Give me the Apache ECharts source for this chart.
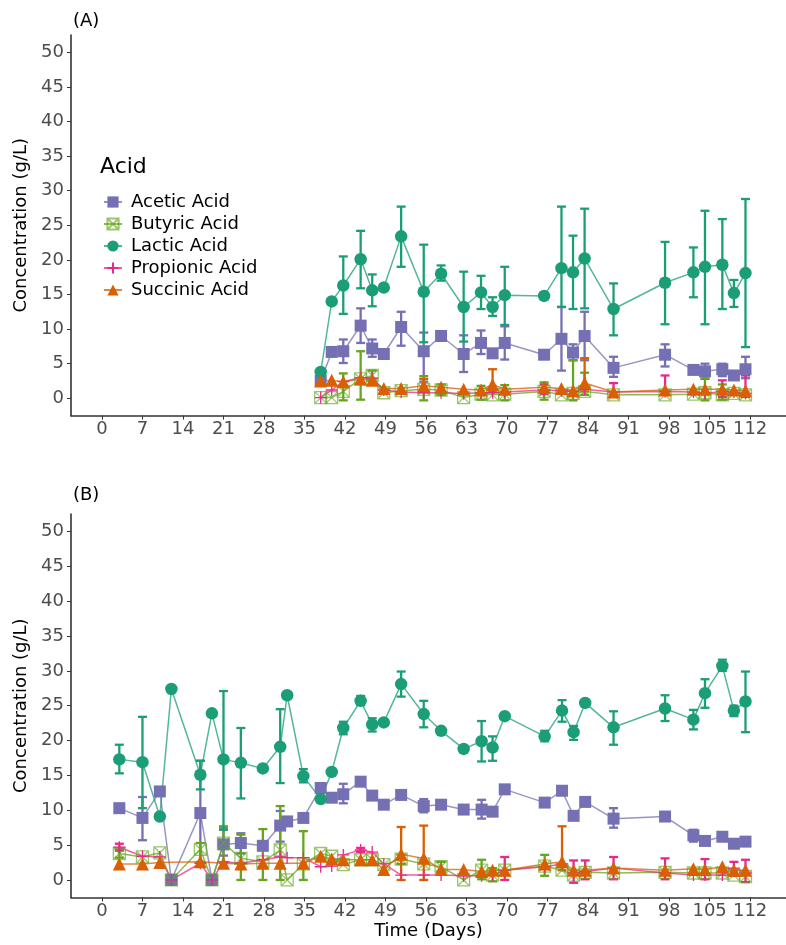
<!DOCTYPE html>
<html><head><meta charset="utf-8">
<script src="https://cdn.jsdelivr.net/npm/echarts@6/dist/echarts.min.js"></script>
<style>html,body{margin:0;padding:0;background:#fff}#c{width:786px;height:945px}</style>
</head><body><div id="c"></div><script>
// ---------- data ----------
const xTicks = [0,7,14,21,28,35,42,49,56,63,70,77,84,91,98,105,112];
const yTicks = [0,5,10,15,20,25,30,35,40,45,50];
const acids = ['Acetic Acid','Butyric Acid','Lactic Acid','Propionic Acid','Succinic Acid'];

// Panel A
const daysA = [37.8,39.7,41.7,44.7,46.7,48.7,51.7,55.6,58.6,62.5,65.5,67.5,69.6,76.4,79.4,81.4,83.4,88.4,97.3,102.2,104.2,107.2,109.2,111.2];
const aceticA    = [2.5,6.7,6.8,10.5,7.2,6.4,10.3,6.8,9.0,6.4,8.0,6.5,8.0,6.3,8.6,6.6,9.0,4.4,6.3,4.1,3.9,4.2,3.3,4.2];
const aceticA_lo = [null,null,5.1,8.0,6.0,null,7.6,2.4,null,3.8,6.4,null,5.6,null,4.0,5.5,5.5,3.1,4.6,null,2.8,3.2,null,2.9];
const aceticA_hi = [null,null,8.5,13.0,8.5,null,12.5,9.5,null,9.1,9.8,null,10.4,null,13.2,7.8,12.5,6.0,7.8,null,5.0,5.0,null,6.0];
const butyricA    = [0.1,0.1,1.0,2.8,3.3,0.8,1.1,1.3,1.2,0.1,0.6,0.5,0.6,1.0,0.5,0.7,1.0,0.5,0.5,0.6,0.8,0.5,0.7,0.5];
const butyricA_lo = [null,null,-0.3,-0.2,2.5,null,null,-0.3,0.5,null,-0.2,null,-0.3,-0.2,null,-0.3,0.5,null,null,null,-0.3,-0.2,null,null];
const butyricA_hi = [null,null,3.6,6.8,4.0,null,null,3.2,2.0,null,1.8,null,1.9,2.3,null,5.5,3.7,null,null,null,2.9,2.0,null,null];
const lacticA    = [3.8,14.0,16.3,20.1,15.6,16.0,23.4,15.4,18.0,13.2,15.3,13.2,14.9,14.8,18.8,18.2,20.2,12.9,16.7,18.2,19.0,19.3,15.2,18.1];
const lacticA_lo = [null,null,12.2,15.9,13.3,null,19.0,8.1,17.0,8.2,12.9,11.9,10.6,null,13.2,12.9,13.0,9.1,10.7,14.6,10.7,12.9,13.2,7.4];
const lacticA_hi = [null,null,20.5,24.2,17.9,null,27.7,22.2,19.2,18.3,17.7,14.6,19.0,null,27.7,23.5,27.4,16.6,22.6,21.8,27.1,25.9,17.1,28.8];
const propionicA    = [0.1,1.2,2.4,3.0,2.9,1.2,0.9,0.8,0.8,0.7,0.8,0.8,0.9,1.2,1.1,1.0,1.3,0.9,1.0,0.9,0.7,1.0,0.9,0.7];
const propionicA_lo = [null,null,null,null,null,null,null,null,null,null,null,null,null,0.6,null,null,null,0.5,0.7,null,null,0.2,null,0.2];
const propionicA_hi = [null,null,null,null,null,null,null,null,null,null,null,null,null,2.0,null,null,null,2.2,3.3,null,null,2.6,null,3.3];
const succinicA    = [2.5,2.6,2.4,2.8,2.6,1.4,1.4,1.8,1.6,1.3,1.2,2.0,1.3,1.6,1.4,1.1,2.2,0.9,1.2,1.3,1.3,1.3,1.2,1.1];
const succinicA_lo = [null,null,null,null,null,null,null,1.0,null,null,null,1.0,null,null,null,null,1.0,null,null,null,null,null,null,null];
const succinicA_hi = [null,null,null,null,null,null,null,2.8,null,null,null,4.2,null,null,null,null,5.8,null,null,null,null,null,null,null];

// Panel B
const daysB = [3.0,7.0,10.0,12.0,17.0,19.0,21.0,24.0,27.8,30.8,32.0,34.8,37.8,39.7,41.7,44.7,46.7,48.7,51.7,55.6,58.6,62.5,65.6,67.5,69.6,76.5,79.5,81.5,83.5,88.4,97.3,102.2,104.2,107.2,109.2,111.2];
const aceticB    = [10.3,8.9,12.7,0,9.6,0,5.1,5.3,4.9,7.8,8.4,8.9,13.2,11.8,12.3,14.1,12.1,10.8,12.2,10.6,10.8,10.1,10.1,9.8,13.0,11.1,12.8,9.2,11.2,8.8,9.1,6.4,5.6,6.2,5.2,5.5];
const aceticB_lo = [null,5.7,null,null,2.0,null,3.5,3.8,null,5.5,null,null,null,null,11.0,null,null,null,null,9.7,null,null,8.8,null,null,null,null,null,null,7.5,null,5.5,null,null,null,null];
const aceticB_hi = [null,11.9,null,null,17.1,null,7.5,6.7,null,9.9,null,null,null,null,13.8,null,null,null,null,11.6,null,null,11.5,null,null,null,null,null,null,10.3,null,7.2,null,null,null,null];
const butyricB    = [3.8,3.3,3.9,0,4.4,0,5.3,3.1,2.6,4.3,0,2.3,3.8,3.4,2.2,2.9,2.9,2.2,3.0,2.3,1.9,0,1.4,0.7,1.4,2.0,1.4,0.7,1.1,1.0,1.1,1.0,1.0,1.0,0.7,0.5];
const butyricB_lo = [3.2,null,null,null,2.6,null,2.5,0,0,0,null,0,null,null,null,null,null,null,2.3,null,1.3,null,0.1,-0.2,null,0.6,null,null,null,null,null,null,null,null,null,null];
const butyricB_hi = [4.4,null,null,null,5.3,null,7.7,6.5,7.3,10.6,null,7.0,null,null,null,null,null,null,3.6,null,2.6,null,2.9,1.7,null,3.6,null,null,null,null,null,null,null,null,null,null];
const lacticB    = [17.3,16.9,9.1,27.4,15.1,23.9,17.3,16.8,16.0,19.1,26.5,14.9,11.6,15.5,21.8,25.7,22.3,22.6,28.1,23.8,21.4,18.8,19.9,19.0,23.5,20.6,24.3,21.2,25.4,21.9,24.6,23.0,26.8,30.7,24.3,25.6];
const lacticB_lo = [15.3,10.3,null,null,13.0,null,7.2,11.7,null,13.9,null,14.0,null,null,20.9,25.1,21.3,null,26.3,21.9,null,null,17.0,17.1,null,19.9,22.7,20.1,null,19.4,22.8,21.6,24.7,30.0,23.5,21.2];
const lacticB_hi = [19.4,23.4,null,null,17.1,null,27.1,21.8,null,24.5,null,15.9,null,null,22.7,26.4,23.2,null,29.9,25.7,null,null,22.8,20.6,null,21.4,25.8,22.1,null,24.2,26.5,24.4,28.8,31.6,25.0,29.9];
const propionicB    = [4.7,3.4,3.3,0,2.4,0,2.6,2.4,2.9,3.3,3.2,3.2,1.9,2.0,3.6,4.3,4.0,2.3,0.7,0.7,0.7,0.6,0.6,0.7,1.4,1.9,2.3,1.0,1.2,1.7,1.0,0.7,0.7,0.7,1.7,1.0];
const propionicB_lo = [4.2,null,null,null,null,null,null,null,null,null,null,null,null,null,null,4.0,null,null,null,null,null,null,null,null,0,null,null,-0.4,0.1,0.1,0.1,null,0.1,null,0.6,-0.3];
const propionicB_hi = [5.2,null,null,null,null,null,null,null,null,null,null,null,null,null,null,4.6,null,null,null,null,null,null,null,null,3.3,null,null,2.8,2.8,3.3,3.1,null,3.0,null,2.6,2.9];
const succinicB    = [2.3,2.3,2.5,null,2.6,null,2.4,2.3,2.4,2.4,null,2.4,3.4,3.0,2.9,2.9,2.9,1.5,3.7,3.1,1.5,1.5,1.2,1.4,1.4,2.3,2.6,1.4,1.4,1.7,1.4,1.6,1.5,1.9,1.4,1.4];
const succinicB_lo = [null,null,null,null,null,null,null,null,null,null,null,null,null,null,null,null,null,null,0,0,null,null,null,null,null,null,1.4,null,null,null,null,null,null,null,null,null];
const succinicB_hi = [null,null,null,null,null,null,null,null,null,null,null,null,null,null,null,null,null,null,7.6,7.8,null,null,null,null,null,null,7.7,null,null,null,null,null,null,null,null,null];

// ---------- styling ----------
const FONT = 'DejaVu Sans';
const COL = {'Acetic Acid':'#7570B3','Butyric Acid':'#66A61E','Lactic Acid':'#1B9E77','Propionic Acid':'#E7298A','Succinic Acid':'#D95F02'};
const SYM = {
  'Acetic Acid':{symbol:'rect',size:12,fill:'#7570B3',stroke:null},
  'Butyric Acid':{symbol:'path://M0,0H20V20H0Z M0,0L20,20 M20,0L0,20',size:12,fill:'rgba(0,0,0,0)',stroke:'rgba(102,166,30,0.65)'},
  'Lactic Acid':{symbol:'circle',size:12.5,fill:'#1B9E77',stroke:null},
  'Propionic Acid':{symbol:'path://M10,0V20 M0,10H20',size:12,fill:'rgba(0,0,0,0)',stroke:'#E7298A'},
  'Succinic Acid':{symbol:'triangle',size:13,fill:'#D95F02',stroke:null}
};
const panelData = [
  {days:daysA, s:{'Acetic Acid':[aceticA,aceticA_lo,aceticA_hi],'Butyric Acid':[butyricA,butyricA_lo,butyricA_hi],'Lactic Acid':[lacticA,lacticA_lo,lacticA_hi],'Propionic Acid':[propionicA,propionicA_lo,propionicA_hi],'Succinic Acid':[succinicA,succinicA_lo,succinicA_hi]}},
  {days:daysB, s:{'Acetic Acid':[aceticB,aceticB_lo,aceticB_hi],'Butyric Acid':[butyricB,butyricB_lo,butyricB_hi],'Lactic Acid':[lacticB,lacticB_lo,lacticB_hi],'Propionic Acid':[propionicB,propionicB_lo,propionicB_hi],'Succinic Acid':[succinicB,succinicB_lo,succinicB_hi]}}
];

function pairs(days, vals){ const o=[]; days.forEach((d,i)=>{ if(vals[i]!=null) o.push([d,vals[i]]); }); return o; }
function errs(days, lo, hi){ const o=[]; days.forEach((d,i)=>{ if(lo[i]!=null && hi[i]!=null) o.push([d,lo[i],hi[i]]); }); return o; }

function errRender(color){
  return function(params, api){
    const x=api.value(0), lo=api.value(1), hi=api.value(2);
    const a=api.coord([x,hi]), b=api.coord([x,lo]);
    const w=4.5;
    const st={stroke:color,lineWidth:2.3};
    return {type:'group',children:[
      {type:'line',shape:{x1:a[0],y1:a[1],x2:b[0],y2:b[1]},style:st},
      {type:'line',shape:{x1:a[0]-w,y1:a[1],x2:a[0]+w,y2:a[1]},style:st},
      {type:'line',shape:{x1:b[0]-w,y1:b[1],x2:b[0]+w,y2:b[1]},style:st}
    ]};
  };
}

const series=[];
panelData.forEach((p,k)=>{
  acids.forEach(name=>{
    const [v,lo,hi]=p.s[name];
    const sy=SYM[name];
    series.push({
      type:'line', name, xAxisIndex:k, yAxisIndex:k,
      data:pairs(p.days,v), symbol:sy.symbol, symbolSize:sy.size, showAllSymbol:true,
      lineStyle:{color:COL[name],width:1.5,opacity:0.75},
      itemStyle:{color:sy.fill,borderColor:sy.stroke||sy.fill,borderWidth:sy.stroke?1.3:0,opacity:1},
      emphasis:{disabled:true}, animation:false
    });
  });
});
panelData.forEach((p,k)=>{
  acids.forEach(name=>{
    const [v,lo,hi]=p.s[name];
    series.push({
      type:'custom', name, xAxisIndex:k, yAxisIndex:k,
      data:errs(p.days,lo,hi), encode:{x:0,y:[1,2]},
      renderItem:errRender(COL[name]), animation:false, silent:true
    });
  });
});

function xAx(k){
  return {type:'value',gridIndex:k,min:-5.35,max:118.2,
    name:k===1?'Time (Days)':'',nameLocation:'middle',nameGap:25,
    nameTextStyle:{color:'#000',fontSize:18,fontFamily:FONT},
    axisLine:{show:true,onZero:false,lineStyle:{color:'#333',width:1.6}},
    axisTick:{show:true,customValues:xTicks,length:4,lineStyle:{color:'#333',width:1}},
    axisLabel:{customValues:xTicks,color:'#4D4D4D',fontSize:18,fontFamily:FONT,margin:5},
    splitLine:{show:false}};
}
function yAx(k){
  return {type:'value',gridIndex:k,min:-2.5,max:52.5,
    name:'Concentration (g/L)',nameLocation:'middle',nameGap:38,nameRotate:90,
    nameTextStyle:{color:'#000',fontSize:18,fontFamily:FONT},
    axisLine:{show:true,onZero:false,lineStyle:{color:'#333',width:1.6}},
    axisTick:{show:true,customValues:yTicks,length:4,lineStyle:{color:'#333',width:1}},
    axisLabel:{customValues:yTicks,color:'#4D4D4D',fontSize:18,fontFamily:FONT,margin:7},
    splitLine:{show:false}};
}

const chart=echarts.init(document.getElementById('c'),null,{renderer:'canvas'});
chart.setOption({
  backgroundColor:'#fff',
  animation:false,
  textStyle:{fontFamily:FONT},
  title:[
    {text:'(A)',left:68,top:7,textStyle:{fontSize:18,fontWeight:'normal',color:'#000',fontFamily:FONT}},
    {text:'(B)',left:68,top:481,textStyle:{fontSize:18,fontWeight:'normal',color:'#000',fontFamily:FONT}},
    {text:'Acid',left:95,top:151,textStyle:{fontSize:22,fontWeight:'normal',color:'#000',fontFamily:FONT}}
  ],
  legend:{data:acids,orient:'vertical',left:98,top:188,itemWidth:18,itemHeight:14,itemGap:4,
    textStyle:{fontSize:18,color:'#000',fontFamily:FONT,padding:[0,0,0,4]}},
  grid:[
    {left:71,top:35,width:715,height:380.6},
    {left:71,top:514,width:715,height:383.4}
  ],
  xAxis:[xAx(0),xAx(1)],
  yAxis:[yAx(0),yAx(1)],
  series
});
</script></body></html>
